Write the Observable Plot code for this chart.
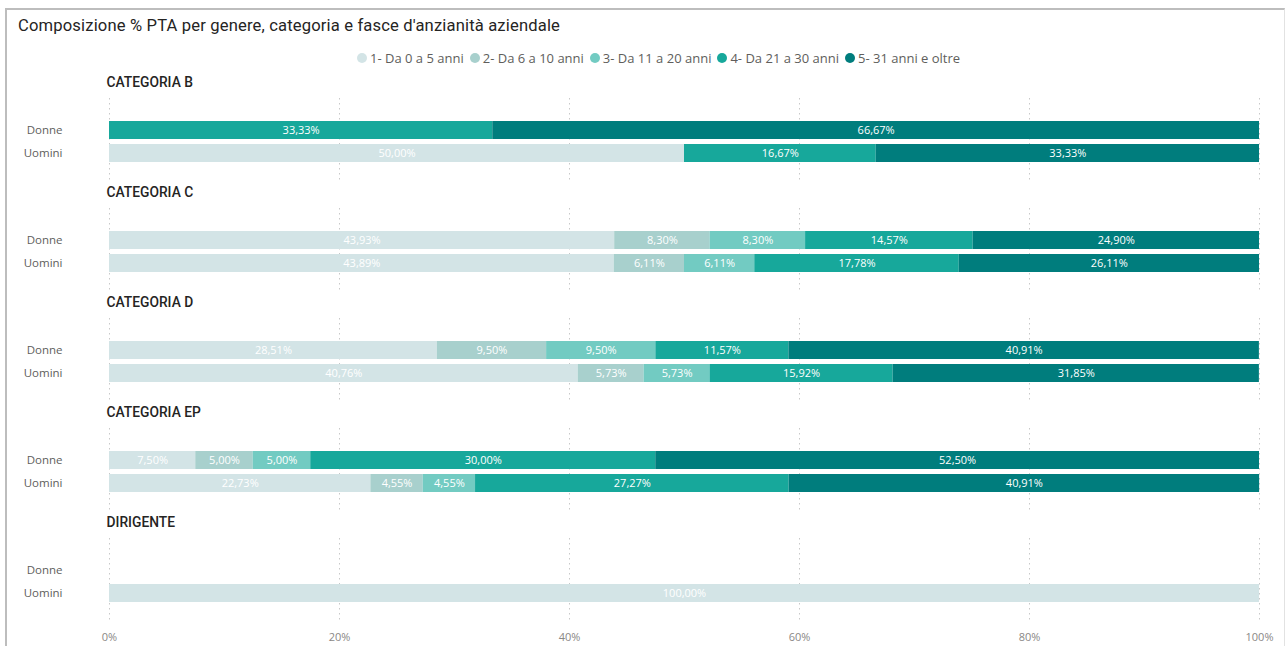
<!DOCTYPE html>
<html>
<head>
<meta charset="utf-8">
<script src="https://cdn.jsdelivr.net/npm/d3@7"></script>
<script src="https://cdn.jsdelivr.net/npm/@observablehq/plot@0.6"></script>
<style>
  html, body { margin: 0; padding: 0; background: #fff; }
  body { width: 1285px; height: 646px; position: relative; overflow: hidden; font-family: "Open Sans", "Noto Sans", sans-serif; }
  #frame { position: absolute; left: 5px; top: 8px; width: 1277px; height: 700px; border-left: 2px solid #bdbdbd; border-top: 2px solid #bdbdbd; border-right: 1px solid #e2e2e2; }
  #title { position: absolute; left: 18px; top: 16px; font-family: Roboto, sans-serif; font-size: 16.6px; color: #252423; letter-spacing: 0.15px; }
  #legend { position: absolute; left: 357px; top: 49px; display: flex; align-items: center; font-size: 13px; color: #605e5c; white-space: nowrap; }
  #legend .item { display: flex; align-items: center; margin-right: 6px; }
  #legend .dot { width: 10px; height: 10px; border-radius: 50%; margin-right: 3px; }
  #chart { position: absolute; left: 0; top: 0; }
</style>
</head>
<body>
<div id="frame"></div>
<div id="title">Composizione % PTA per genere, categoria e fasce d'anzianità aziendale</div>
<div id="legend"></div>
<div id="chart"></div>
<script>
const categories = ["CATEGORIA B", "CATEGORIA C", "CATEGORIA D", "CATEGORIA EP", "DIRIGENTE"];
const genders = ["Donne", "Uomini"];
const bands = ["1- Da 0 a 5 anni", "2- Da 6 a 10 anni", "3- Da 11 a 20 anni", "4- Da 21 a 30 anni", "5- 31 anni e oltre"];
const bandColors = ["#d3e4e6", "#a8d0cd", "#72cbc2", "#17a89b", "#007d7d"];
// percent per band (bands order) for each category
const donne = [
  [0, 0, 0, 33.33, 66.67],
  [43.93, 8.30, 8.30, 14.57, 24.90],
  [28.51, 9.50, 9.50, 11.57, 40.91],
  [7.50, 5.00, 5.00, 30.00, 52.50],
  [0, 0, 0, 0, 0]
];
const uomini = [
  [50.00, 0, 0, 16.67, 33.33],
  [43.89, 6.11, 6.11, 17.78, 26.11],
  [40.76, 5.73, 5.73, 15.92, 31.85],
  [22.73, 4.55, 4.55, 27.27, 40.91],
  [100.00, 0, 0, 0, 0]
];
const xTicks = [0, 20, 40, 60, 80, 100];

const rows = [];
categories.forEach((cat, ci) => {
  [donne, uomini].forEach((series, gi) => {
    series[ci].forEach((v, bi) => {
      if (v > 0) rows.push({cat, gender: genders[gi], band: bands[bi], value: v});
    });
  });
});

const fmt = v => v.toFixed(2).replace(".", ",") + "%";

// legend
const leg = document.getElementById("legend");
bands.forEach((b, i) => {
  const it = document.createElement("div");
  it.className = "item";
  it.innerHTML = `<span class="dot" style="background:${bandColors[i]}"></span><span>${b}</span>`;
  leg.appendChild(it);
});

const chart = Plot.plot({
  width: 1285,
  height: 646,
  marginLeft: 109,
  marginRight: 26,
  marginTop: 97,
  marginBottom: 24,
  style: {fontFamily: "'Open Sans', 'Noto Sans', sans-serif", fontSize: "11px", background: "transparent"},
  x: {domain: [0, 100], ticks: xTicks},
  y: {domain: genders, paddingInner: 0.22, paddingOuter: 0.9, align: 0.55},
  fy: {domain: categories, paddingInner: 0.25, paddingOuter: 0, axis: null},
  color: {domain: bands, range: bandColors},
  marks: [
    Plot.gridX(xTicks, {stroke: "#c8c8c8", strokeOpacity: 1, strokeDasharray: "1.5,3.5"}),
    Plot.barX(rows, Plot.stackX({x: "value", y: "gender", fy: "cat", fill: "band", order: bands})),
    Plot.text(rows, Plot.stackX({x: "value", y: "gender", fy: "cat", z: "band", order: bands, text: d => fmt(d.value), fill: "white", fontSize: 11})),
    Plot.text(categories, {fy: d => d, text: d => d, frameAnchor: "top-left", textAnchor: "start", lineAnchor: "middle", dy: -16, dx: -3, fontFamily: "Roboto, sans-serif", fontWeight: 500, fontSize: 13.8, fill: "#252423"}),
    Plot.axisY({tickSize: 0, tickPadding: 47, textAnchor: "end", fill: "#605e5c", fontSize: 11.5, label: null}),
    Plot.axisX({anchor: "bottom", ticks: xTicks, tickSize: 0, tickPadding: 12, tickFormat: d => d + "%", fill: "#8a8886", fontSize: 11, label: null})
  ]
});
document.getElementById("chart").appendChild(chart);
</script>
</body>
</html>
